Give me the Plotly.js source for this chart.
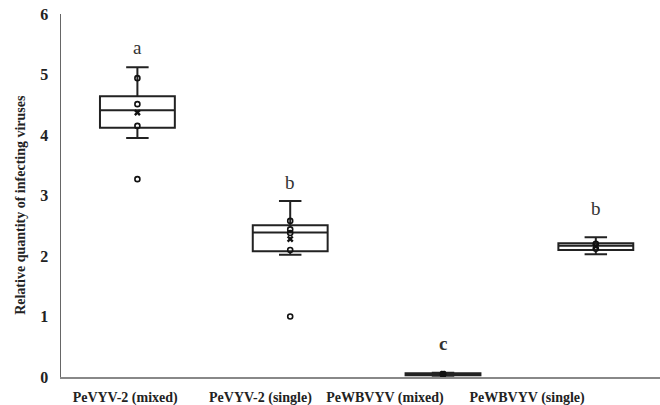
<!DOCTYPE html>
<html><head><meta charset="utf-8">
<script src="https://cdn.plot.ly/plotly-3.0.1.min.js"></script>
<style>html,body{margin:0;padding:0;background:#fff}#c{width:660px;height:405px}</style>
</head><body><div id="c"></div>
<script>
const categories = ["PeVYV-2 (mixed)", "PeVYV-2 (single)", "PeWBVYV (mixed)", "PeWBVYV (single)"];
const q1 = [4.12, 2.08, 0.03, 2.10];
const medians = [4.41, 2.39, 0.04, 2.17];
const q3 = [4.64, 2.51, 0.06, 2.21];
const lowerWhisker = [3.95, 2.02, 0.02, 2.03];
const upperWhisker = [5.12, 2.91, 0.07, 2.31];
const means = [4.37, 2.28, 0.05, 2.16];
const points = [[4.94, 4.51, 4.15, 3.27], [2.58, 2.44, 2.38, 2.10, 1.00], [0.05, 0.04], [2.12, 2.20]];
const letters = ["a", "b", "<b>c</b>", "b"];
const letterY = [5.45, 3.22, 0.55, 2.79];
const labelPos = [-0.08, 0.805, 1.62, 2.55];
const yTicks = [0, 1, 2, 3, 4, 5, 6];

const FONT = 'Liberation Serif, Times New Roman, serif';
const xs = categories.map((_, i) => i);
const traces = [{
  type: 'box', x: xs, q1: q1, median: medians, q3: q3,
  lowerfence: lowerWhisker, upperfence: upperWhisker,
  boxpoints: false, width: 0.49, whiskerwidth: 0.3,
  line: {color: '#222', width: 2}, fillcolor: 'rgba(255,255,255,0)',
  hoverinfo: 'skip', showlegend: false
}];
const px = [], py = [];
points.forEach((arr, i) => arr.forEach(v => { px.push(i); py.push(v); }));
traces.push({type: 'scatter', mode: 'markers', x: px, y: py,
  marker: {symbol: 'circle-open', size: 5, color: '#111', line: {width: 1.6}}, showlegend: false});
traces.push({type: 'scatter', mode: 'markers', x: xs, y: means,
  marker: {symbol: 'x', size: 6, color: '#111'}, showlegend: false});

const annotations = letters.map((t, i) => ({
  x: i, y: letterY[i], xref: 'x', yref: 'y', text: t, showarrow: false,
  font: {family: FONT, size: 19, color: '#333'}
}));
annotations.push({x: -0.068, xref: 'paper', y: 0.475, yref: 'paper', text: '<b>Relative quantity of infecting viruses</b>',
  textangle: -90, showarrow: false, xanchor: 'center', yanchor: 'middle',
  font: {family: FONT, size: 14, color: '#222'}});

const layout = {
  width: 660, height: 405,
  margin: {l: 61, r: 0, t: 14, b: 28},
  paper_bgcolor: '#fff', plot_bgcolor: '#fff',
  showlegend: false,
  xaxis: {range: [-0.5, 3.42], tickvals: labelPos, ticktext: categories.map(c => '<b>' + c + '</b>'),
    showgrid: false, zeroline: false, showline: true, linecolor: '#888', linewidth: 1.5,
    ticks: '', ticklabelstandoff: 7,
    tickfont: {family: FONT, size: 14, color: '#222'}},
  yaxis: {range: [0, 6], showgrid: false, zeroline: false, showline: true,
    linecolor: '#666', linewidth: 1.5, ticks: '', ticklabelstandoff: 8,
    tickvals: yTicks, ticktext: yTicks.map(v => '<b>' + v + '</b>'),
    tickfont: {family: FONT, size: 16, color: '#222'}},
  annotations: annotations
};
Plotly.newPlot('c', traces, layout, {displayModeBar: false, staticPlot: true});
</script></body></html>
